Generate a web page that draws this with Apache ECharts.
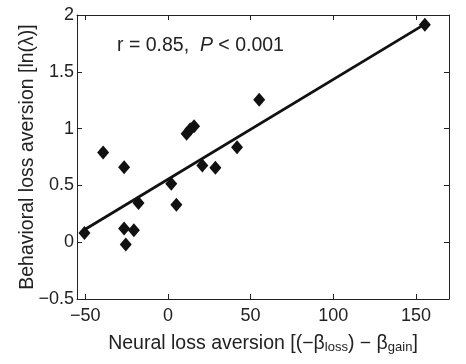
<!DOCTYPE html>
<html><head><meta charset="utf-8">
<script src="https://cdn.jsdelivr.net/npm/echarts@6/dist/echarts.min.js"></script>
<style>html,body{margin:0;padding:0;background:#fff}#c{width:466px;height:364px}</style>
</head><body><div id="c"></div>
<script>
const neuralX = [-50.5, -39.2, -26.5, -26.5, -25.5, -20.6, -17.8, 2.0, 5.1, 11.3, 13.5, 15.8, 20.8, 28.7, 41.8, 55.2, 155.4];
const behavioralY = [0.08, 0.79, 0.66, 0.12, -0.02, 0.105, 0.345, 0.515, 0.33, 0.955, 0.995, 1.02, 0.675, 0.655, 0.835, 1.255, 1.915];
const fitX = [-50.5, 155.4];
const fitY = [0.11, 1.92];
const xTicks = [-50, 0, 50, 100, 150];
const yTicks = [-0.5, 0, 0.5, 1, 1.5, 2];

const font = 'Liberation Sans, Arial, Helvetica, sans-serif';
const fmt = v => String(v).replace('-', '\u2212');
const chart = echarts.init(document.getElementById('c'));
const pts = neuralX.map((x, i) => [x, behavioralY[i]]);
const fit = fitX.map((x, i) => [x, fitY[i]]);
const axCommon = {
  type: 'value', splitLine: {show: false},
  axisLine: {show: true, onZero: false, lineStyle: {color: '#222', width: 1}},
  axisTick: {show: true, inside: true, length: 5, lineStyle: {color: '#222'}}
};
chart.setOption({
  animation: false,
  backgroundColor: '#fff',
  grid: {left: 77, right: 17, top: 15, bottom: 65},
  xAxis: [
    Object.assign({}, axCommon, {
      min: -55, max: 170, position: 'bottom',
      axisTick: Object.assign({}, axCommon.axisTick, {customValues: xTicks}),
      axisLabel: {customValues: xTicks, formatter: fmt, color: '#222', fontSize: 18, fontFamily: font, margin: 8},
      name: '{a|Neural loss aversion [(\u2212\u03b2}{s|loss}{a|) \u2212 \u03b2}{s|gain}{a|]}',
      nameLocation: 'middle', nameGap: 31, nameMoveOverlap: false,
      nameTextStyle: {rich: {
        a: {fontSize: 19.5, fontFamily: font, color: '#222', lineHeight: 24, verticalAlign: 'bottom'},
        s: {fontSize: 13, fontFamily: font, color: '#222', lineHeight: 6, verticalAlign: 'bottom'}
      }}
    }),
    Object.assign({}, axCommon, {
      min: -55, max: 170, position: 'top',
      axisTick: Object.assign({}, axCommon.axisTick, {customValues: xTicks}),
      axisLabel: {show: false}
    })
  ],
  yAxis: [
    Object.assign({}, axCommon, {
      min: -0.5, max: 2, interval: 0.5, position: 'left',
      axisLabel: {formatter: fmt, color: '#222', fontSize: 18, fontFamily: font, margin: 3},
      name: 'Behavioral loss aversion [ln(\u03bb)]',
      nameLocation: 'middle', nameGap: 39, nameMoveOverlap: false,
      nameTextStyle: {fontSize: 19.5, fontFamily: font, color: '#222'}
    }),
    Object.assign({}, axCommon, {
      min: -0.5, max: 2, interval: 0.5, position: 'right',
      axisLabel: {show: false}
    })
  ],
  graphic: [{
    type: 'text', left: 117, top: 36,
    style: {
      text: '{n|r = 0.85,  }{i|P}{n| < 0.001}',
      rich: {
        n: {fontSize: 19.5, fontFamily: font, fill: '#222'},
        i: {fontSize: 19.5, fontFamily: font, fontStyle: 'italic', fill: '#222'}
      }
    }
  }],
  series: [
    {type: 'line', data: fit, symbol: 'none', lineStyle: {color: '#111', width: 2.8}, z: 2},
    {type: 'scatter', data: pts, symbol: 'diamond', symbolSize: [12, 14], itemStyle: {color: '#111', opacity: 1}, z: 3}
  ]
});
</script></body></html>
